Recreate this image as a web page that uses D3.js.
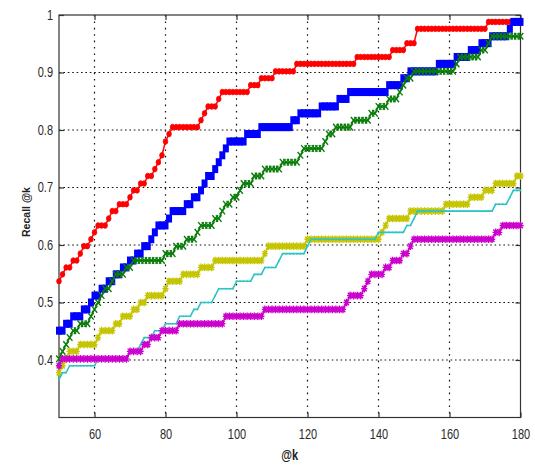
<!DOCTYPE html>
<html>
<head>
<meta charset="utf-8">
<script src="https://cdn.jsdelivr.net/npm/d3@7/dist/d3.min.js"></script>
<style>
  body { margin: 0; background: #fff; }
  svg { display: block; }
</style>
</head>
<body>
<svg id="chart" width="535" height="475"></svg>
<script>
// k range and axis ticks
const kFirst = 50, kLast = 180;
const xTicks = [60, 80, 100, 120, 140, 160, 180];
const yTicks = [0.4, 0.5, 0.6, 0.7, 0.8, 0.9, 1];
const yTickLabels = ["0.4", "0.5", "0.6", "0.7", "0.8", "0.9", "1"];
const xLabel = "@k";
const yLabel = "Recall @k";

// Recall@k of each method is piecewise constant: a value holds from its k until the next listed k.
const redFrom   = [50,51,52,54,56,57,59,60,61,64,65,67,70,71,73,75,77,78,79,80,81,82,90,91,92,95,96,104,107,111,117,134,144,148,151,171];
const redRecall = [0.537,0.549,0.561,0.573,0.585,0.598,0.610,0.622,0.634,0.646,0.659,0.671,0.683,0.695,0.707,0.720,0.732,0.744,0.756,0.780,0.793,0.805,0.817,0.829,0.841,0.854,0.866,0.878,0.890,0.902,0.915,0.927,0.939,0.951,0.976,0.988];

const blueFrom   = [50,52,54,57,59,60,62,64,66,68,70,72,74,76,77,78,81,82,86,88,90,91,92,94,95,96,97,98,103,107,116,118,124,129,132,143,147,149,157,162,166,169,172,177,178];
const blueRecall = [0.451,0.463,0.476,0.488,0.500,0.512,0.524,0.537,0.549,0.561,0.573,0.585,0.598,0.610,0.622,0.634,0.646,0.659,0.671,0.683,0.695,0.707,0.720,0.732,0.744,0.756,0.768,0.780,0.793,0.805,0.817,0.829,0.841,0.854,0.866,0.878,0.890,0.902,0.915,0.927,0.939,0.951,0.963,0.976,0.988];

const greenFrom   = [50,51,52,53,54,56,59,60,61,62,63,65,66,69,71,80,83,86,89,90,94,96,97,99,101,102,105,108,113,118,119,125,126,128,133,138,140,143,146,147,148,150,162,163,169,171,172];
const greenRecall = [0.402,0.415,0.427,0.439,0.451,0.463,0.476,0.488,0.500,0.512,0.524,0.537,0.549,0.561,0.573,0.585,0.598,0.610,0.622,0.634,0.646,0.659,0.671,0.683,0.695,0.707,0.720,0.732,0.744,0.756,0.768,0.780,0.793,0.805,0.817,0.829,0.841,0.854,0.866,0.878,0.890,0.902,0.915,0.927,0.939,0.951,0.963];

const yellowFrom   = [50,51,52,53,56,61,62,66,68,71,73,75,80,81,85,90,94,108,109,120,141,142,143,149,159,166,170,173,179];
const yellowRecall = [0.378,0.390,0.402,0.415,0.427,0.439,0.451,0.463,0.476,0.488,0.500,0.512,0.524,0.537,0.549,0.561,0.573,0.585,0.598,0.610,0.622,0.634,0.646,0.659,0.671,0.683,0.695,0.707,0.720];

const cyanFrom   = [50,51,53,61,70,73,74,77,80,84,88,90,94,95,100,105,108,112,113,120,121,140,148,150,151,173,177,178];
const cyanRecall = [0.366,0.378,0.390,0.402,0.415,0.427,0.439,0.451,0.463,0.476,0.488,0.500,0.512,0.524,0.537,0.549,0.561,0.573,0.585,0.598,0.610,0.622,0.634,0.646,0.659,0.671,0.683,0.695];

const magentaFrom   = [50,51,70,74,76,79,84,97,108,131,132,136,137,138,142,144,147,149,150,173,175];
const magentaRecall = [0.390,0.402,0.415,0.427,0.439,0.451,0.463,0.476,0.488,0.500,0.512,0.524,0.537,0.549,0.561,0.573,0.585,0.598,0.610,0.622,0.634];

const series = [
  { from: redFrom,     recall: redRecall,     color: "#ff0000", marker: "circle" },
  { from: blueFrom,    recall: blueRecall,    color: "#0000ff", marker: "square" },
  { from: greenFrom,   recall: greenRecall,   color: "#0a7d0a", marker: "cross" },
  { from: yellowFrom,  recall: yellowRecall,  color: "#c4c400", marker: "star" },
  { from: cyanFrom,    recall: cyanRecall,    color: "#2ec4c4", marker: "dot" },
  { from: magentaFrom, recall: magentaRecall, color: "#cc00cc", marker: "star" }
];

// one point per integer k, carrying the value in force at that k
function pointsOf(s) {
  return d3.range(kFirst, kLast + 1).map(k => {
    const i = d3.bisectRight(s.from, k) - 1;
    return { k, v: s.recall[i] };
  });
}

const svg = d3.select("#chart");
const m = { left: 59, right: 520.5, top: 15, bottom: 417.5 };
const x = d3.scaleLinear().domain([kFirst, kLast]).range([m.left, m.right]);
const y = d3.scaleLinear().domain([0.3, 1]).range([m.bottom, m.top]);

// dotted grid
const grid = svg.append("g").attr("stroke", "#111").attr("stroke-width", 1.2);
grid.selectAll("line.v").data(xTicks.filter(t => t < kLast)).join("line")
  .attr("class", "v")
  .attr("x1", d => x(d)).attr("x2", d => x(d))
  .attr("y1", m.top).attr("y2", m.bottom)
  .attr("stroke-dasharray", "1.6,4.8");
grid.selectAll("line.h").data(yTicks.filter(t => t < 1)).join("line")
  .attr("class", "h")
  .attr("x1", m.left).attr("x2", m.right)
  .attr("y1", d => y(d)).attr("y2", d => y(d))
  .attr("stroke-dasharray", "1.6,2.8");

// axes box with inward ticks on all sides
const axisColor = "#333";
const tickLen = 5;
const box = svg.append("g");
box.append("rect")
  .attr("x", m.left).attr("y", m.top)
  .attr("width", m.right - m.left).attr("height", m.bottom - m.top)
  .attr("fill", "none").attr("stroke", axisColor).attr("stroke-width", 1.2);

const bottomAxis = d3.axisBottom(x).tickValues(xTicks).tickSizeInner(-tickLen).tickSizeOuter(0).tickFormat(d3.format("d"));
const leftAxis = d3.axisLeft(y).tickValues(yTicks).tickSizeInner(-tickLen).tickSizeOuter(0)
  .tickFormat((d, i) => yTickLabels[i]);
const topAxis = d3.axisTop(x).tickValues(xTicks).tickSizeInner(-tickLen).tickSizeOuter(0).tickFormat("");
const rightAxis = d3.axisRight(y).tickValues(yTicks).tickSizeInner(-tickLen).tickSizeOuter(0).tickFormat("");

function styleAxis(g) {
  g.select(".domain").remove();
  g.selectAll(".tick line").attr("stroke", axisColor).attr("stroke-width", 1.2);
  g.selectAll(".tick text").attr("fill", "#2a2a2a")
    .style("font-family", "'Liberation Sans', Arial, sans-serif")
    .style("font-size", "11px");
}

const gx = svg.append("g").attr("transform", `translate(0,${m.bottom})`).call(bottomAxis).call(styleAxis);
gx.selectAll(".tick text").attr("dy", null).attr("y", 0)
  .attr("transform", "translate(0,18) scale(1,1.32)")
  .attr("dominant-baseline", "middle");
const gy = svg.append("g").attr("transform", `translate(${m.left},0)`).call(leftAxis).call(styleAxis);
gy.selectAll(".tick text").attr("dy", null).attr("x", 0).attr("y", 0)
  .attr("transform", "translate(-6,0.5) scale(1,1.32)")
  .attr("dominant-baseline", "middle");
svg.append("g").attr("transform", `translate(0,${m.top})`).call(topAxis).call(styleAxis);
svg.append("g").attr("transform", `translate(${m.right},0)`).call(rightAxis).call(styleAxis);

// axis titles
svg.append("text")
  .attr("transform", `translate(${(m.left + m.right) / 2},456) scale(1,1.3)`)
  .attr("text-anchor", "middle").attr("dominant-baseline", "middle")
  .style("font-family", "'Liberation Sans', Arial, sans-serif")
  .style("font-size", "11px").style("font-weight", "bold")
  .attr("fill", "#222").text(xLabel);
svg.append("text")
  .attr("transform", "translate(27,212) rotate(-90)")
  .attr("text-anchor", "middle").attr("dominant-baseline", "middle")
  .style("font-family", "'Liberation Sans', Arial, sans-serif")
  .style("font-size", "10.5px").style("font-weight", "bold")
  .attr("fill", "#222").text(yLabel);

// series: connecting line, then one marker per k (markers are slightly taller than wide)
const line = d3.line().x(d => x(d.k)).y(d => y(d.v));
const markerPaths = {
  cross: "M-2.8,-3.3L2.8,3.3M-2.8,3.3L2.8,-3.3",
  star: "M-3.1,0L3.1,0M0,-3.8L0,3.8M-2.3,-2.8L2.3,2.8M-2.3,2.8L2.3,-2.8"
};

series.forEach(s => {
  const pts = pointsOf(s);
  const g = svg.append("g");
  g.append("path").datum(pts)
    .attr("d", line)
    .attr("fill", "none")
    .attr("stroke", s.color)
    .attr("stroke-width", s.marker === "dot" ? 1.6 : 1.5)
    .attr("stroke-linejoin", "round");

  if (s.marker === "circle") {
    g.selectAll("ellipse").data(pts).join("ellipse")
      .attr("cx", d => x(d.k)).attr("cy", d => y(d.v))
      .attr("rx", 2.3).attr("ry", 2.8)
      .attr("fill", s.color).attr("stroke", s.color).attr("stroke-width", 0.8);
  } else if (s.marker === "square") {
    g.selectAll("rect").data(pts).join("rect")
      .attr("x", d => x(d.k) - 3).attr("y", d => y(d.v) - 4)
      .attr("width", 6).attr("height", 8)
      .attr("fill", s.color);
  } else if (s.marker === "dot") {
    g.selectAll("circle").data(pts).join("circle")
      .attr("cx", d => x(d.k)).attr("cy", d => y(d.v)).attr("r", 0.9)
      .attr("fill", s.color);
  } else {
    g.selectAll("path.mk").data(pts).join("path")
      .attr("class", "mk")
      .attr("transform", d => `translate(${x(d.k)},${y(d.v)})`)
      .attr("d", markerPaths[s.marker])
      .attr("fill", "none").attr("stroke", s.color).attr("stroke-width", 1.4);
  }
});
</script>
</body>
</html>
